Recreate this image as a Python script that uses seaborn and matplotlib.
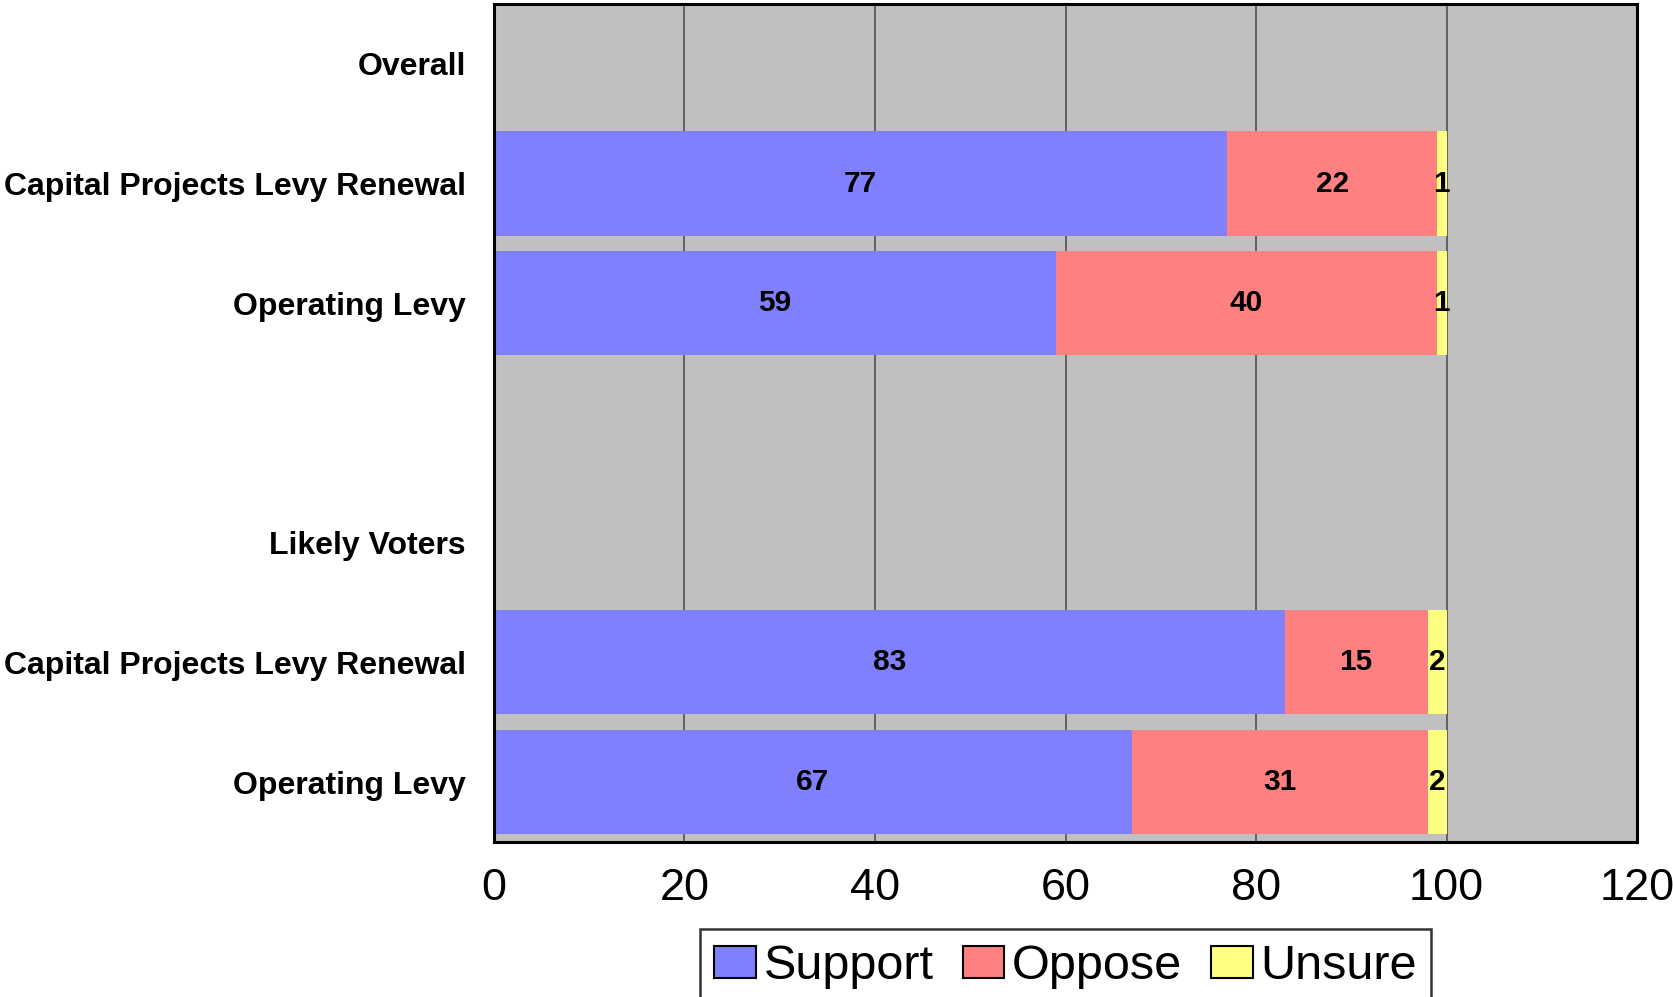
import matplotlib
matplotlib.use("Agg")
import matplotlib.pyplot as plt
from matplotlib.patches import Patch
import numpy as np
import pandas as pd
import seaborn as sns

# rows top to bottom (headers and spacer have no bars)
row_labels = ["Overall", "Capital Projects Levy Renewal", "Operating Levy", "",
              "Likely Voters", "Capital Projects Levy Renewal", "Operating Levy"]
support = [np.nan, 77, 59, np.nan, np.nan, 83, 67]
oppose = [np.nan, 22, 40, np.nan, np.nan, 15, 31]
unsure = [np.nan, 1, 1, np.nan, np.nan, 2, 2]

series_names = ["Support", "Oppose", "Unsure"]
series_colors = ["#8080FF", "#FF8080", "#FFFF80"]

df = pd.DataFrame({"row": [f"r{i}" for i in range(len(row_labels))],
                   "Support": support, "Oppose": oppose, "Unsure": unsure})
df["cum_oppose"] = df["Support"] + df["Oppose"]
df["cum_unsure"] = df["cum_oppose"] + df["Unsure"]

sns.set_style("white")
plt.rcParams["font.family"] = ["Liberation Sans", "DejaVu Sans"]
plt.rcParams["text.color"] = "black"
plt.rcParams["xtick.color"] = "black"
plt.rcParams["ytick.color"] = "black"

fig = plt.figure(figsize=(16.74, 9.97), dpi=100)
ax = fig.add_axes([0.295, 0.1555, 0.683, 0.8405])
ax.set_facecolor("#C0C0C0")

order = list(df["row"])
for col, color in [("cum_unsure", series_colors[2]), ("cum_oppose", series_colors[1]),
                   ("Support", series_colors[0])]:
    sns.barplot(data=df, x=col, y="row", order=order, color=color, saturation=1,
                width=0.87, orient="h", ax=ax, linewidth=0, errorbar=None)

# value labels centred in each segment
for i, r in df.iterrows():
    if np.isnan(r["Support"]):
        continue
    starts = [0, r["Support"], r["cum_oppose"]]
    vals = [r["Support"], r["Oppose"], r["Unsure"]]
    for s, v in zip(starts, vals):
        ax.text(s + v / 2, i, f"{v:.0f}", ha="center", va="center",
                fontsize=21.5, fontweight="bold", color="black")

ax.set_xlim(0, 120)
ax.set_xticks(range(0, 121, 20))
ax.set_yticks(range(len(row_labels)))
ax.set_yticklabels(row_labels, fontsize=23, fontweight="bold")
ax.tick_params(axis="x", labelsize=32.5, length=0, pad=19)
ax.tick_params(axis="y", length=0, pad=20)
ax.set_xlabel("")
ax.set_ylabel("")
ax.xaxis.grid(True, color="#5a5a5a", linewidth=1.3)
ax.set_axisbelow(True)
for sp in ax.spines.values():
    sp.set_visible(True)
    sp.set_color("black")
    sp.set_linewidth(2.2)

handles = [Patch(facecolor=c, edgecolor="black", linewidth=1.5) for c in series_colors]
leg = fig.legend(handles, series_names, loc="upper center", bbox_to_anchor=(0.6365, 0.068),
                 ncol=3, fontsize=35, frameon=True, fancybox=False, edgecolor="black",
                 handlelength=0.86, handleheight=0.64, handletextpad=0.15,
                 columnspacing=0.6, borderpad=0.3, borderaxespad=0)
leg.get_frame().set_linewidth(1.8)

fig.savefig("out.png", dpi=100)
